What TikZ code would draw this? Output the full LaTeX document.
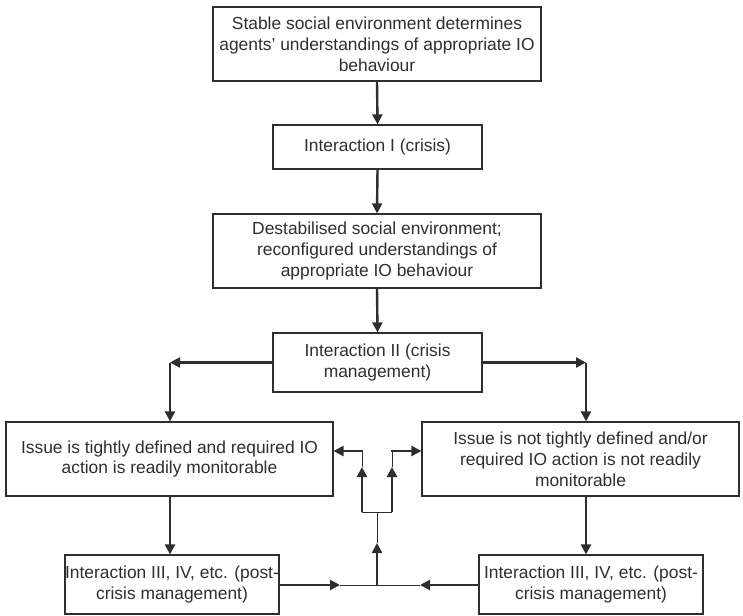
\documentclass[tikz,border=0pt]{standalone}
\usepackage{fontspec}
\setmainfont{Liberation Sans}
\usetikzlibrary{arrows.meta}
\definecolor{ink}{gray}{0.18}
\begin{document}
\begin{tikzpicture}[x=1pt,y=-1pt,
  box/.style={draw=ink, line width=1.2pt, align=center, inner sep=0pt,
    text=ink, font=\fontsize{17.4}{20.8}\selectfont},
  flow/.style={draw=ink, line width=2.4pt, -{Triangle[length=10pt,width=10pt]}},
  link/.style={draw=ink, line width=1pt}]
\useasboundingbox (0,0) rectangle (743,615);

% boxes
\node[box, minimum width=328pt, minimum height=74pt] (b1) at (377,44)
  {Stable social environment determines\\agents’ understandings of appropriate IO\\behaviour};
\node[box, minimum width=209pt, minimum height=44pt] (b2) at (377.5,147)
  {Interaction I (crisis)};
\node[box, minimum width=328pt, minimum height=74pt] (b3) at (377,251)
  {Destabilised social environment;\\reconfigured understandings of\\appropriate IO behaviour};
\node[box, minimum width=209pt, minimum height=59pt] (b4) at (377.5,362.5)
  {Interaction II (crisis\\management)};
\node[box, minimum width=327pt, minimum height=74pt] (b5l) at (169.5,459)
  {Issue is tightly defined and required IO\\action is readily monitorable};
\node[box, minimum width=317pt, minimum height=74pt] (b5r) at (580.5,459)
  {Issue is not tightly defined and/or\\required IO action is not readily\\monitorable};
\node[box, minimum width=214pt, minimum height=59pt] (b6l) at (172,584.5)
  {Interaction III, IV, etc. (post-\\crisis management)};
\node[box, minimum width=224pt, minimum height=59pt] (b6r) at (591,584.5)
  {Interaction III, IV, etc. (post-\\crisis management)};

% main chain
\draw[flow] (b1.south) -- (b2.north);
\draw[flow] (b2.south) -- (b3.north);
\draw[flow] (b3.south) -- (b4.north);

% split into the two branches
\coordinate (cl) at (170,362.5);
\coordinate (cr) at (586,362.5);
\draw[flow] (b4.west) -- (cl);
\draw[flow] (cl) -- (cl |- b5l.north);
\draw[flow] (b4.east) -- (cr);
\draw[flow] (cr) -- (cr |- b5r.north);
\draw[flow] (cl |- b5l.south) -- (cl |- b6l.north);
\draw[flow] (cr |- b5r.south) -- (cr |- b6r.north);

% feedback from the post-crisis interactions
\coordinate (j) at (377,585);
\coordinate (al) at (340,585);
\coordinate (ar) at (420,585);
\coordinate (au) at (377,543);
\coordinate (fork) at (377,512);
\coordinate (fl) at (362,512);
\coordinate (fr) at (392,512);
\coordinate (ul) at (362,467);
\coordinate (ur) at (392,467);
\coordinate (tl) at (362,451);
\coordinate (tr) at (392,451);

\draw[flow] (b6l.east |- j) -- (al);
\draw[flow] (b6r.west |- j) -- (ar);
\draw[link] (al) -- (ar);
\draw[flow] (j) -- (au);
\draw[link] (au) -- (fork);
\draw[link] (fl) -- (fr);
\draw[flow] (fl) -- (ul);
\draw[flow] (fr) -- (ur);
\draw[link] (ul) -- (tl);
\draw[link] (ur) -- (tr);
\draw[flow] ([xshift=1.1pt]tl) -- (b5l.east |- tl);
\draw[flow] ([xshift=-1.1pt]tr) -- (b5r.west |- tr);
\end{tikzpicture}
\end{document}
